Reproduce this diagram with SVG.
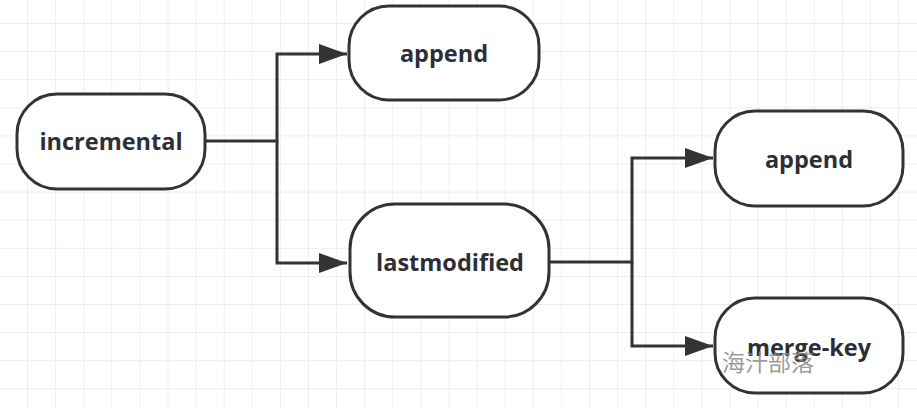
<svg xmlns="http://www.w3.org/2000/svg" width="917" height="408" viewBox="0 0 917 408">
<defs>
<pattern id="grid" x="27" y="23" width="28.1" height="28.1" patternUnits="userSpaceOnUse">
<path d="M0 0H28.1M0 0V28.1" fill="none" stroke="#e6e6e6" stroke-width="1.3"/>
</pattern>
<marker id="arr" viewBox="0 0 28 20" refX="28" refY="10" markerWidth="28" markerHeight="20" markerUnits="userSpaceOnUse" orient="auto">
<path d="M0 0L28 10L0 20Z" fill="#333"/>
</marker>
</defs>
<style>
.node rect{fill:#fff;stroke:#333;stroke-width:3}
.node text{font-family:"Open Sans","DejaVu Sans",sans-serif;font-weight:bold;font-size:23.5px;fill:#2e2e36;text-anchor:middle}
.conn path{fill:none;stroke:#333;stroke-width:3}
</style>
<rect width="917" height="408" fill="#fff"/>
<rect width="917" height="408" fill="url(#grid)"/>
<g id="connectors" class="conn">
<path d="M205 141H277V54H347" marker-end="url(#arr)"/>
<path d="M277 141V263H347" marker-end="url(#arr)"/>
<path d="M549 262H632V158H713" marker-end="url(#arr)"/>
<path d="M632 262V346H713" marker-end="url(#arr)"/>
</g>
<g id="incremental" class="node">
<rect x="17" y="94" width="188" height="95" rx="40"/>
<text x="111" y="150">incremental</text>
</g>
<g id="append1" class="node">
<rect x="349" y="6" width="190" height="94" rx="40"/>
<text x="444" y="62">append</text>
</g>
<g id="lastmodified" class="node">
<rect x="350" y="204" width="199" height="113" rx="45"/>
<text x="450" y="271">lastmodified</text>
</g>
<g id="append2" class="node">
<rect x="715" y="111" width="188" height="95" rx="40"/>
<text x="809" y="168">append</text>
</g>
<g id="mergekey" class="node">
<rect x="715" y="298" width="188" height="95" rx="40"/>
<text x="809" y="356">merge-key</text>
</g>
<text x="722" y="371" font-family="'Noto Sans CJK SC',sans-serif" font-size="23" fill="#888" fill-opacity="0.85">海汁部落</text>
</svg>
